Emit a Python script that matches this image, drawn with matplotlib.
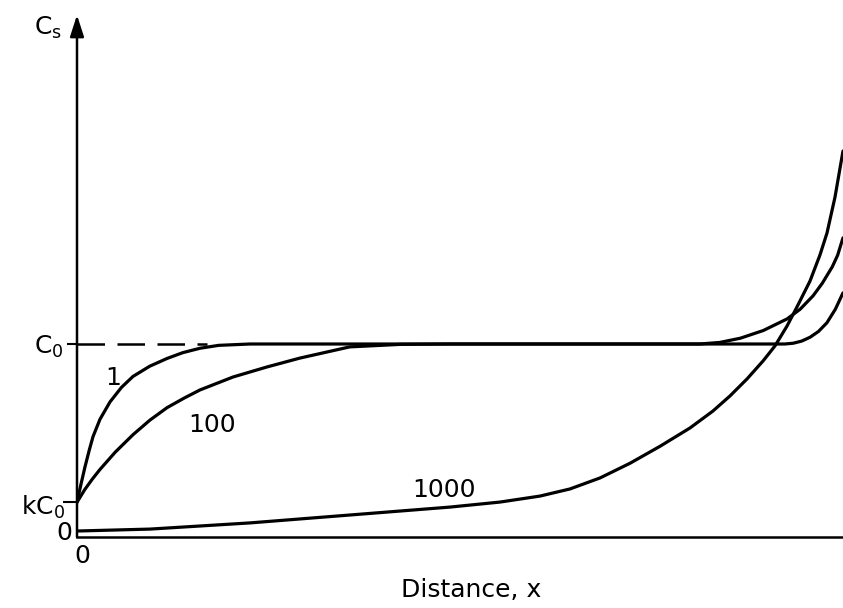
import matplotlib
matplotlib.use('Agg')
import matplotlib.pyplot as plt

plt.rcParams['font.family'] = ['DejaVu Sans']
plt.rcParams['mathtext.default'] = 'regular'

# distribution coefficient and reference level (y in units of C0)
k = 0.18
c0 = 1.0

# curve "1"
x_1 = [0, 0.5, 1.04, 1.6, 2.09, 3.0, 4.31, 5.8, 7.31, 9.5, 11.75, 13.8, 16.06, 18.5, 22.6,
       42.2, 68.3, 92.4, 93.5, 94.6, 95.7, 96.8, 97.9, 99.0, 100]
y_1 = [0.18, 0.27, 0.363, 0.45, 0.52, 0.61, 0.70, 0.775, 0.832, 0.885, 0.925, 0.955, 0.978, 0.993, 1.0,
       1.0, 1.0, 1.0, 1.004, 1.015, 1.035, 1.065, 1.11, 1.18, 1.265]

# curve "100"
x_100 = [0, 1.0, 2.0, 3.0, 5.0, 7.31, 9.5, 11.75, 14.0, 16.06, 20.37, 24.8, 29.1, 35.6, 42.2, 48.7,
         68.3, 81.3, 83.9, 86.6, 89.6, 92.7, 94.4, 96.1, 97.3, 98.6, 99.3, 100]
y_100 = [0.18, 0.245, 0.30, 0.35, 0.44, 0.53, 0.605, 0.67, 0.72, 0.762, 0.829, 0.881, 0.927, 0.985, 0.998, 1.0,
         1.0, 1.0, 1.008, 1.030, 1.070, 1.130, 1.180, 1.250, 1.315, 1.40, 1.46, 1.55]

# curve "1000"
x_1000 = [0, 9.53, 22.58, 35.64, 48.69, 55.22, 60.44, 64.36, 68.28, 72.19, 76.11, 80.03, 83.03,
          85.25, 87.47, 89.56, 91.12, 92.69, 93.99, 95.69, 96.99, 97.91, 98.96, 100]
y_1000 = [0.031, 0.041, 0.073, 0.114, 0.155, 0.181, 0.212, 0.249, 0.306, 0.382, 0.470, 0.565, 0.653,
          0.731, 0.819, 0.912, 0.990, 1.093, 1.192, 1.326, 1.461, 1.575, 1.762, 2.0]

# where curve "1" reaches C0 (end of the dashed guide)
x_dash_end = 17.0

curve_labels = ['1', '100', '1000']
label_pos = [(4.7, 0.824), (17.6, 0.58), (47.9, 0.244)]

fig = plt.figure(figsize=(8.43, 6.08), dpi=100)
ax = fig.add_axes([77 / 843, 71 / 608, 766 / 843, 522 / 608])
y_top = 522 / 193
ax.set_xlim(0, 100)
ax.set_ylim(0, y_top)

lw = 2.3
for xs, ys in [(x_1, y_1), (x_100, y_100), (x_1000, y_1000)]:
    ax.plot(xs, ys, color='black', lw=lw, solid_capstyle='round', solid_joinstyle='round')

# dashed C0 guide from the axis
ax.plot([0, x_dash_end], [c0, c0], color='black', lw=1.8, linestyle=(0, (11, 5)))

for s in ['top', 'right', 'left']:
    ax.spines[s].set_visible(False)
ax.spines['bottom'].set_linewidth(1.8)

# y axis with arrow head
ax.annotate('', xy=(0, y_top), xytext=(0, 0), xycoords='data',
            arrowprops=dict(arrowstyle='-|>,head_length=1.3,head_width=0.42',
                            lw=1.8, color='black', shrinkA=0, shrinkB=0,
                            mutation_scale=10),
            annotation_clip=False)

ax.set_xticks([])
ax.set_yticks([k, c0])
ax.set_yticklabels([])
ax.tick_params(axis='y', direction='out', width=1.5, color='black')
yt = ax.yaxis.get_major_ticks()
yt[0].tick1line.set_markersize(10)
yt[1].tick1line.set_markersize(7.5)

fs = 18
ax.annotate(r'$C_s$', xy=(0, y_top), xycoords='data', xytext=(-29, -13),
            textcoords='offset pixels', ha='center', va='center', fontsize=fs,
            annotation_clip=False)
ax.annotate(r'$C_0$', xy=(0, c0), xycoords='data', xytext=(-13, -3),
            textcoords='offset pixels', ha='right', va='center', fontsize=fs,
            annotation_clip=False)
ax.annotate(r'$kC_0$', xy=(0, k), xycoords='data', xytext=(-12, -5),
            textcoords='offset pixels', ha='right', va='center', fontsize=fs,
            annotation_clip=False)
ax.annotate('0', xy=(0, 0), xycoords='data', xytext=(-5, 4),
            textcoords='offset pixels', ha='right', va='center', fontsize=fs,
            annotation_clip=False)
ax.annotate('0', xy=(0, 0), xycoords='data', xytext=(5, -19),
            textcoords='offset pixels', ha='center', va='center', fontsize=fs,
            annotation_clip=False)

for lab, (lx, ly) in zip(curve_labels, label_pos):
    ax.text(lx, ly, lab, ha='center', va='center', fontsize=fs)

ax.text((471 - 77) / 766, -(590 - 537) / 522, 'Distance, x', transform=ax.transAxes,
        ha='center', va='center', fontsize=fs)

fig.savefig('out.png', dpi=100, facecolor='white')
